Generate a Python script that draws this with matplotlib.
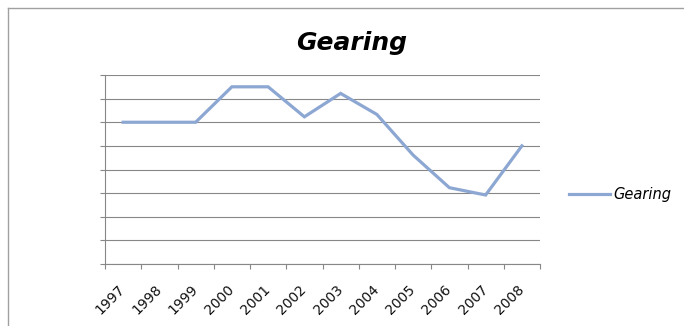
import numpy as np
import matplotlib
matplotlib.use('Agg')
import matplotlib.pyplot as plt
from matplotlib import transforms
from matplotlib.lines import Line2D

years = ['1997', '1998', '1999', '2000', '2001', '2002',
         '2003', '2004', '2005', '2006', '2007', '2008']
gearing = [6.0, 6.0, 6.0, 7.5, 7.5, 6.23, 7.22, 6.33, 4.61, 3.23, 2.92, 5.0]

line_color = '#8DA7D3'
grid_color = '#878787'

fig = plt.figure(figsize=(6.84, 3.26), dpi=100)
ax = fig.add_axes([105 / 684, 62 / 326, 435 / 684, 189 / 326])

x = np.arange(len(years))
ax.plot(x, gearing, color=line_color, lw=2.3, solid_joinstyle='miter', label='Gearing')

ax.set_xlim(-0.5, len(years) - 0.5)
ax.set_ylim(0, 8)
ax.set_yticks(np.arange(0, 9))
ax.set_yticklabels([])
ax.yaxis.grid(True, color=grid_color, lw=0.8)
ax.set_axisbelow(True)

ax.set_xticks(x)
ax.set_xticks(np.arange(-0.5, len(years)), minor=True)
ax.set_xticklabels(years, rotation=45, ha='right', va='top',
                   rotation_mode='anchor', fontsize=10, color='#111111')
ax.tick_params(axis='x', which='major', length=0, pad=13)
ax.tick_params(axis='x', which='minor', length=3.6, width=0.8, color=grid_color)
ax.tick_params(axis='y', length=3.6, width=0.8, color=grid_color)

# nudge rotated labels so they sit under the category like Excel does
offset = transforms.ScaledTranslation(-0.05, 0, fig.dpi_scale_trans)
for lbl in ax.get_xticklabels():
    lbl.set_transform(lbl.get_transform() + offset)

for side in ['top', 'right']:
    ax.spines[side].set_visible(False)
for side in ['left', 'bottom']:
    ax.spines[side].set_color(grid_color)
    ax.spines[side].set_linewidth(0.8)

fig.text(352 / 684, (326 - 50) / 326, 'Gearing', ha='center', va='baseline',
         fontsize=18, fontweight='bold', fontstyle='italic')

leg = ax.legend(loc='center left', bbox_to_anchor=(569 / 684, (326 - 195) / 326),
                bbox_transform=fig.transFigure, frameon=False, borderpad=0,
                borderaxespad=0, handlelength=2.8, handletextpad=0.25,
                prop={'size': 10.5, 'style': 'italic'})

# chart area border (left and top edges visible)
border = '#A0A0A0'
fig.add_artist(Line2D([8 / 684, 8 / 684], [0, (326 - 8) / 326],
                      transform=fig.transFigure, color=border, lw=1))
fig.add_artist(Line2D([8 / 684, 1], [(326 - 8) / 326, (326 - 8) / 326],
                      transform=fig.transFigure, color=border, lw=1))

fig.savefig('out.png', dpi=100)
